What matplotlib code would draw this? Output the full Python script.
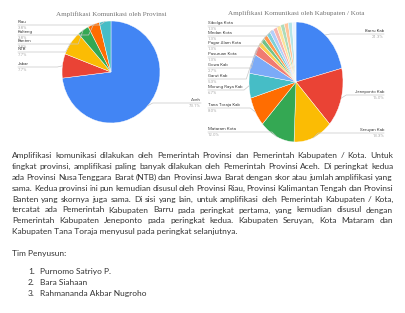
import matplotlib
matplotlib.use("Agg")
import matplotlib.pyplot as plt
import numpy as np

# data
prov_labels = ['Aceh', 'Jabar', 'NTB', 'Banten', 'Kalteng', 'Riau']
prov_values = [19, 2, 2, 1, 1, 1]

kab_labels = ['Barru Kab', 'Jeneponto Kab', 'Seruyan Kab', 'Mataram Kota', 'Tana Toraja Kab',
              'Morung Raya Kab', 'Garut Kab', 'Gowa Kab', 'Pasuruan Kota', '', 'Pagar Alam Kota', '',
              'Medan Kota', '', 'Sibolga Kota', '', '', '', '']
kab_values = [16, 12, 10, 9, 6, 5, 4, 2, 1, 1, 1, 1, 1, 1, 1, 1, 1, 1, 1]

colors = ['#4285F4', '#EA4335', '#FBBC04', '#34A853', '#FF6D01', '#46BDC6',
          '#7BAAF7', '#F07B72', '#FCD04F', '#71C287', '#FF994D', '#7ED1D7',
          '#B3CEFB', '#F7B4AE', '#FDE49B', '#AEDCBA', '#FFC599', '#B5E5E8', '#ECF3FE']

paragraph = [
    "Amplifikasi komunikasi dilakukan oleh Pemerintah Provinsi dan Pemerintah Kabupaten / Kota. Untuk",
    "tingkat provinsi, amplifikasi paling banyak dilakukan oleh Pemerintah Provinsi Aceh. Di peringkat kedua",
    "ada Provinsi Nusa Tenggara Barat (NTB) dan Provinsi Jawa Barat dengan skor atau jumlah amplifikasi yang",
    "sama. Kedua provinsi ini pun kemudian disusul oleh Provinsi Riau, Provinsi Kalimantan Tengah dan Provinsi",
    "Banten yang skornya juga sama. Di sisi yang lain, untuk amplifikasi oleh Pemerintah Kabupaten / Kota,",
    "tercatat ada Pemerintah Kabupaten Barru pada peringkat pertama, yang kemudian disusul dengan",
    "Pemerintah Kabupaten Jeneponto pada peringkat kedua. Kabupaten Seruyan, Kota Mataram dan",
    "Kabupaten Tana Toraja menyusul pada peringkat selanjutnya.",
]
team = ['Purnomo Satriyo P.', 'Bara Siahaan', 'Rahmananda Akbar Nugroho']

W, H = 405, 313
fig = plt.figure(figsize=(W / 100, H / 100), dpi=100)
renderer = fig.canvas.get_renderer()

body_font = 'Lato'
title_font = 'Liberation Serif'
label_font = 'Roboto'


def pie_at(values, cx, cy, rx, ry):
    ax = fig.add_axes([(cx - rx) / W, 1 - (cy + ry) / H, 2 * rx / W, 2 * ry / H])
    ax.pie(values, colors=colors[:len(values)], startangle=90, counterclock=False,
           wedgeprops=dict(edgecolor='white', linewidth=0.3))
    ax.set_aspect('auto')
    ax.set_xlim(-1, 1)
    ax.set_ylim(-1, 1)
    ax.axis('off')


pie_at(prov_values, 111, 72, 49, 51)
pie_at(kab_values, 296, 82, 47, 60)

ov = fig.add_axes([0, 0, 1, 1])
ov.set_xlim(0, W)
ov.set_ylim(H, 0)
ov.axis('off')


def width_of(s, size, family):
    t = ov.text(0, 0, s, fontsize=size, family=family)
    w = t.get_window_extent(renderer).width
    t.remove()
    return w


def fit(s, family, target):
    return 10 * target / width_of(s, 10, family)


# titles
ts = fit("Amplifikasi Komunikasi oleh Provinsi", title_font, 110)
ov.text(111, 14, "Amplifikasi Komunikasi oleh Provinsi", family=title_font, fontsize=ts,
        color='#757575', ha='center', va='center')
ov.text(296, 13, "Amplifikasi Komunikasi oleh Kabupaten / Kota", family=title_font, fontsize=ts,
        color='#757575', ha='center', va='center')


def labels(values, names, cx, cy, rx, ry, left_pos, right_pos):
    total = sum(values)
    cum = np.cumsum([0] + list(values))
    for i, name in enumerate(names):
        if not name:
            continue
        mid = np.radians((cum[i] + values[i] / 2) / total * 360)
        ex = cx + rx * np.sin(mid)
        ey = cy - ry * np.cos(mid)
        pct = f"{values[i] / total * 100:.1f}%"
        if name in left_pos:
            lx, ly = left_pos[name]
            ov.plot([lx, ex - 5, ex], [ly, ly, ey], color='#c8c8c8', lw=0.5)
            ov.text(lx, ly - 0.6, name, fontsize=3.2, family=label_font, color='#444444', va='bottom')
            ov.text(lx, ly + 0.6, pct, fontsize=3.2, family=label_font, color='#aaaaaa', va='top')
        else:
            lx, ly = right_pos[name]
            ov.plot([lx, ex + 5, ex], [ly, ly, ey], color='#c8c8c8', lw=0.5)
            ov.text(lx, ly - 0.6, name, fontsize=3.2, family=label_font, color='#444444',
                    va='bottom', ha='right')
            ov.text(lx, ly + 0.6, pct, fontsize=3.2, family=label_font, color='#aaaaaa',
                    va='top', ha='right')


labels(prov_values, prov_labels, 111, 72, 49, 51,
       {'Riau': (18, 25), 'Kalteng': (18, 35), 'Banten': (18, 44), 'NTB': (18, 52), 'Jabar': (18, 67)},
       {'Aceh': (201, 103)})
labels(kab_values, kab_labels, 296, 82, 47, 60,
       {'Sibolga Kota': (208, 26), 'Medan Kota': (208, 36), 'Pagar Alam Kota': (208, 46),
        'Pasuruan Kota': (208, 57), 'Gowa Kab': (208, 68), 'Garut Kab': (208, 79),
        'Morung Raya Kab': (208, 90), 'Tana Toraja Kab': (208, 108), 'Mataram Kota': (208, 132)},
       {'Barru Kab': (384, 34), 'Jeneponto Kab': (384, 95), 'Seruyan Kab': (384, 133)})

# paragraph, justified; size chosen so the full lines are only slightly stretched
x0, x1 = 12, 393
natural = np.mean([width_of(l, 10, body_font) for l in paragraph[:-1]])
fs = 10 * 372 / natural
text_color = '#333333'
for k, line in enumerate(paragraph):
    y = 158 + k * 10.9
    if k == len(paragraph) - 1:
        ov.text(x0, y, line, fontsize=fs, family=body_font, color=text_color, va='baseline')
        continue
    words = line.split(' ')
    widths = [width_of(w, fs, body_font) for w in words]
    gap = (x1 - x0 - sum(widths)) / (len(words) - 1)
    x = x0
    for w, wd in zip(words, widths):
        ov.text(x, y, w, fontsize=fs, family=body_font, color=text_color, va='baseline')
        x += wd + gap

ov.text(x0, 256, "Tim Penyusun:", fontsize=fs, family=body_font, color=text_color, va='baseline')
for i, name in enumerate(team):
    y = 274 + i * 11
    ov.text(28, y, f"{i + 1}.", fontsize=fs, family=body_font, color=text_color, va='baseline')
    ov.text(40, y, name, fontsize=fs, family=body_font, color=text_color, va='baseline')

fig.savefig('out.png', dpi=100)
